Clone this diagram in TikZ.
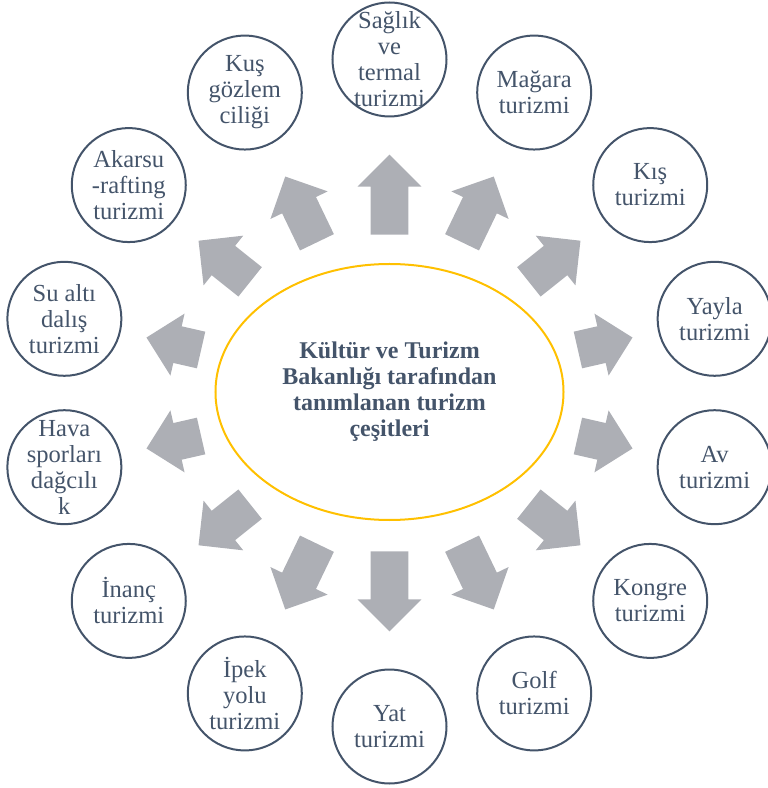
\documentclass[tikz,border=0pt]{standalone}
\usepackage{fontspec}
\setmainfont{Liberation Serif}
\usepackage{xcolor}
\usetikzlibrary{shapes.geometric,shapes.arrows}
\definecolor{slate}{HTML}{44546A}
\definecolor{gold}{HTML}{FFC000}
\definecolor{arrowgray}{HTML}{ADAFB5}

\begin{document}
\begin{tikzpicture}[x=0.75pt,y=0.75pt,
  hub/.style={ellipse,draw=gold,line width=1.5pt,minimum width=261pt,minimum height=192pt,
    align=center,text=slate,font=\fontsize{18}{19.5}\selectfont\bfseries},
  topic/.style={circle,draw=slate,line width=1.5pt,minimum size=85.5pt,inner sep=0pt},
  topictext/.style={align=center,text=slate,font=\fontsize{18.4}{19.5}\selectfont,inner sep=0pt},
  fan/.style={single arrow,fill=arrowgray,inner xsep=0pt,inner ysep=13.9pt,minimum width=47pt,
    single arrow head extend=9.75pt,anchor=tail}]
\useasboundingbox (-389.5,-395) rectangle (377.5,393);
% Centre
\node[hub] (hub) at (0,1) {Kültür ve Turizm\\Bakanlığı tarafından\\tanımlanan turizm\\çeşitleri};
% Arrows: index / base distance / length
\foreach \i/\d/\len in {0/158/60pt, 1/167/54.75pt, 2/178/49.5pt, 3/193/42pt,
  4/193/42pt, 5/178/49.5pt, 6/167/54.75pt, 7/158/60pt, 8/167/54.75pt, 9/178/49.5pt,
  10/193/42pt, 11/193/42pt, 12/178/49.5pt, 13/167/54.75pt}
  \node[fan,rotate=90-\i*360/14,minimum height=\len] (arrow\i) at (90-\i*360/14:\d) {};
% Circles
\foreach \i/\txt in {0/{Sağlık\\ve\\termal\\turizmi}, 1/{Mağara\\turizmi}, 2/{Kış\\turizmi},
  3/{Yayla\\turizmi}, 4/{Av\\turizmi}, 5/{Kongre\\turizmi}, 6/{Golf\\turizmi},
  7/{Yat\\turizmi}, 8/{İpek\\yolu\\turizmi}, 9/{İnanç\\turizmi},
  10/{Hava\\sporları\\dağcılı\\k}, 11/{Su altı\\dalış\\turizmi},
  12/{Akarsu\\-rafting\\turizmi}, 13/{Kuş\\gözlem\\ciliği}}
{
  \node[topic] (c\i) at (90-\i*360/14:333.5) {};
  \node[topictext] (t\i) at (c\i) {\txt};
}
\end{tikzpicture}
\end{document}
